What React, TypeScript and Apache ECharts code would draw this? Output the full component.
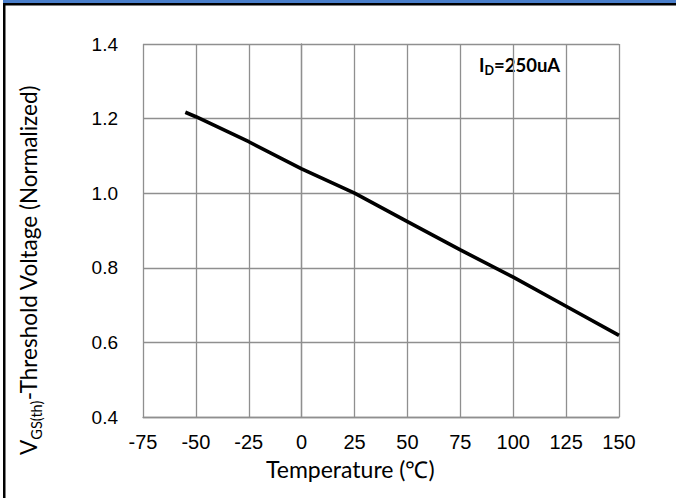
import React, { useEffect, useRef } from "react";
import * as echarts from "echarts";

const temps = [-55, -50, -25, 0, 25, 50, 75, 100, 125, 150];
const vth = [1.217, 1.205, 1.138, 1.065, 1.0, 0.924, 0.848, 0.775, 0.697, 0.619];
const xTicks = { min: -75, max: 150, step: 25 };
const yTicks = { min: 0.4, max: 1.4, step: 0.2 };

export default function App() {
  const ref = useRef<HTMLDivElement>(null);
  useEffect(() => {
    if (!ref.current) return;
    const chart = echarts.init(ref.current, null, { renderer: "svg" });
    const gridColor = "#8f8f8f";
    const titleFont = "Lato, 'Open Sans', sans-serif";
    const tickFont = "'Liberation Sans', Arial, sans-serif";
    chart.setOption({
      animation: false,
      backgroundColor: "#ffffff",
      grid: {
        left: 143,
        top: 44,
        width: 476,
        height: 373,
        containLabel: false,
        outerBoundsMode: "none",
      },
      xAxis: {
        type: "value",
        min: xTicks.min,
        max: xTicks.max,
        interval: xTicks.step,
        axisLine: { show: true, lineStyle: { color: gridColor, width: 1.3 } },
        axisTick: { show: false },
        splitLine: { show: true, lineStyle: { color: gridColor, width: 1.3 } },
        axisLabel: {
          margin: 15,
          color: "#000",
          fontSize: 20,
          fontFamily: tickFont,
        },
      },
      yAxis: {
        type: "value",
        min: yTicks.min,
        max: yTicks.max,
        interval: yTicks.step,
        axisLine: { show: true, lineStyle: { color: gridColor, width: 1.3 } },
        axisTick: { show: false },
        splitLine: { show: true, lineStyle: { color: gridColor, width: 1.3 } },
        axisLabel: {
          margin: 25,
          color: "#000",
          fontSize: 19,
          fontFamily: tickFont,
          formatter: (v: number) => v.toFixed(1),
        },
      },
      series: [
        {
          type: "line",
          data: temps.map((t, i) => [t, vth[i]]),
          showSymbol: false,
          symbol: "none",
          lineStyle: { color: "#000", width: 3.6 },
        },
      ],
      graphic: [
        { type: "rect", shape: { x: 3, y: 0, width: 673, height: 3 }, style: { fill: "#4A7FCB" } },
        { type: "rect", shape: { x: 3, y: 3, width: 673, height: 2.5 }, style: { fill: "#000" } },
        { type: "rect", shape: { x: 3, y: 3, width: 2.5, height: 495 }, style: { fill: "#000" } },
        {
          type: "text",
          x: 266,
          y: 469,
          style: {
            text: "Temperature (℃)",
            fontSize: 23,
            fontFamily: titleFont,
            fill: "#000",
            textAlign: "left",
            textVerticalAlign: "middle",
          },
        },
        {
          type: "text",
          x: 30,
          y: 270,
          rotation: Math.PI / 2,
          style: {
            text: "{m|V}{s|GS(th)}{m|-Threshold Voltage (Normalized)}",
            fill: "#000",
            textAlign: "center",
            textVerticalAlign: "middle",
            rich: {
              m: { fontSize: 22.5, fontFamily: titleFont, lineHeight: 27, verticalAlign: "top" },
              s: { fontSize: 14.5, fontFamily: titleFont, lineHeight: 14, padding: [14, 0, 0, 0], verticalAlign: "bottom" },
            },
          },
        },
        {
          type: "text",
          x: 479,
          y: 66,
          style: {
            text: "{m|I}{s|D}{m|=250uA}",
            fill: "#000",
            textAlign: "left",
            textVerticalAlign: "middle",
            rich: {
              m: { fontSize: 18.5, fontWeight: "bold", fontFamily: titleFont, lineHeight: 22, verticalAlign: "top" },
              s: { fontSize: 12.5, fontWeight: "bold", fontFamily: titleFont, lineHeight: 12, padding: [11, 0, 0, 0], verticalAlign: "bottom" },
            },
          },
        },
      ],
    });
    return () => chart.dispose();
  }, []);
  return (
    <div
      ref={ref}
      style={{ position: "fixed", left: 0, top: 0, width: 676, height: 498, background: "#fff" }}
    />
  );
}
